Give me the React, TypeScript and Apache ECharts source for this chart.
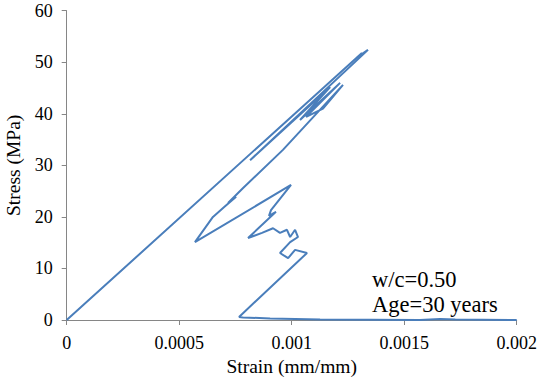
import React, { useEffect, useRef } from "react";
import * as echarts from "echarts";

// Strain (mm/mm) and stress (MPa) along the recorded path, in recording order
const strain: number[] = [
  0, 0.001312, 0.001286, 0.001339, 0.000815, 0.001171, 0.001037, 0.001215,
  0.001064, 0.001139, 0.001228, 0.000961, 0.000784, 0.000717, 0.000753,
  0.0007, 0.00065, 0.00057, 0.000997, 0.000908, 0.000899, 0.00093, 0.000806,
  0.000868, 0.000917, 0.000948, 0.000979, 0.000993, 0.001015, 0.001028,
  0.000993, 0.000948, 0.000984, 0.001015, 0.001068, 0.000766, 0.000784,
  0.000904, 0.001126, 0.00157, 0.00166, 0.001727, 0.002,
];
const stress: number[] = [
  0, 51.8, 50.8, 52.4, 31.0, 45.2, 38.8, 46.0, 39.4, 41.0, 45.6, 33.0, 25.6,
  22.7, 23.9, 21.9, 20.0, 15.1, 26.2, 21.3, 20.2, 21.0, 15.9, 16.9, 17.8, 16.9,
  17.5, 16.1, 17.5, 16.1, 15.1, 13.0, 12.0, 13.6, 13.0, 0.6, 0.5, 0.3, 0.1, 0,
  0.2, 0.1, 0,
];

const xTicks: number[] = [0, 0.0005, 0.001, 0.0015, 0.002];
const xTickLabels: string[] = ["0", "0.0005", "0.001", "0.0015", "0.002"];
const yTicks: number[] = [0, 10, 20, 30, 40, 50, 60];

const annotations: string[] = ["w/c=0.50", "Age=30 years"];

const FONT = "Liberation Serif";

export default function App() {
  const ref = useRef<HTMLDivElement>(null);

  useEffect(() => {
    if (!ref.current) return;
    const chart = echarts.init(ref.current, undefined, { renderer: "svg" });
    const data = strain.map((s, i) => [s, stress[i]]);
    chart.setOption({
      animation: false,
      backgroundColor: "#ffffff",
      grid: {
        left: 66.7,
        right: 20.3,
        top: 10.7,
        bottom: 58,
        containLabel: false,
        outerBoundsMode: "none",
      },
      xAxis: {
        type: "value",
        min: xTicks[0],
        max: xTicks[xTicks.length - 1],
        interval: 0.0005,
        name: "Strain (mm/mm)",
        nameLocation: "middle",
        nameGap: 35,
        nameTextStyle: { fontFamily: FONT, fontSize: 19.5, color: "#000" },
        axisLine: { show: true, lineStyle: { color: "#868686", width: 1 } },
        axisTick: { show: true, length: 5, inside: false, lineStyle: { color: "#868686" } },
        splitLine: { show: false },
        axisLabel: {
          margin: 14,
          fontFamily: FONT,
          fontSize: 18,
          color: "#000",
          formatter: (v: number) => {
            const i = xTicks.findIndex((t) => Math.abs(t - v) < 1e-9);
            return i >= 0 ? xTickLabels[i] : "";
          },
        },
      },
      yAxis: {
        type: "value",
        min: yTicks[0],
        max: yTicks[yTicks.length - 1],
        interval: 10,
        name: "Stress (MPa)",
        nameLocation: "middle",
        nameGap: 40,
        nameTextStyle: { fontFamily: FONT, fontSize: 19.5, color: "#000" },
        axisLine: { show: true, lineStyle: { color: "#868686", width: 1 } },
        axisTick: { show: true, length: 5, inside: false, lineStyle: { color: "#868686" } },
        splitLine: { show: false },
        axisLabel: { margin: 14, fontFamily: FONT, fontSize: 18, color: "#000" },
      },
      series: [
        {
          type: "line",
          data,
          showSymbol: false,
          symbol: "none",
          lineStyle: { color: "#4A7EBB", width: 2 },
          itemStyle: { color: "#4A7EBB" },
          z: 3,
        },
      ],
      graphic: annotations.map((t, i) => ({
        type: "text",
        left: 372,
        top: 268 + i * 25,
        style: { text: t, fontFamily: FONT, fontSize: 22.5, fill: "#000" },
      })),
    });
    return () => chart.dispose();
  }, []);

  return (
    <div
      ref={ref}
      style={{ position: "fixed", left: 0, top: 0, width: 537, height: 378 }}
    />
  );
}
